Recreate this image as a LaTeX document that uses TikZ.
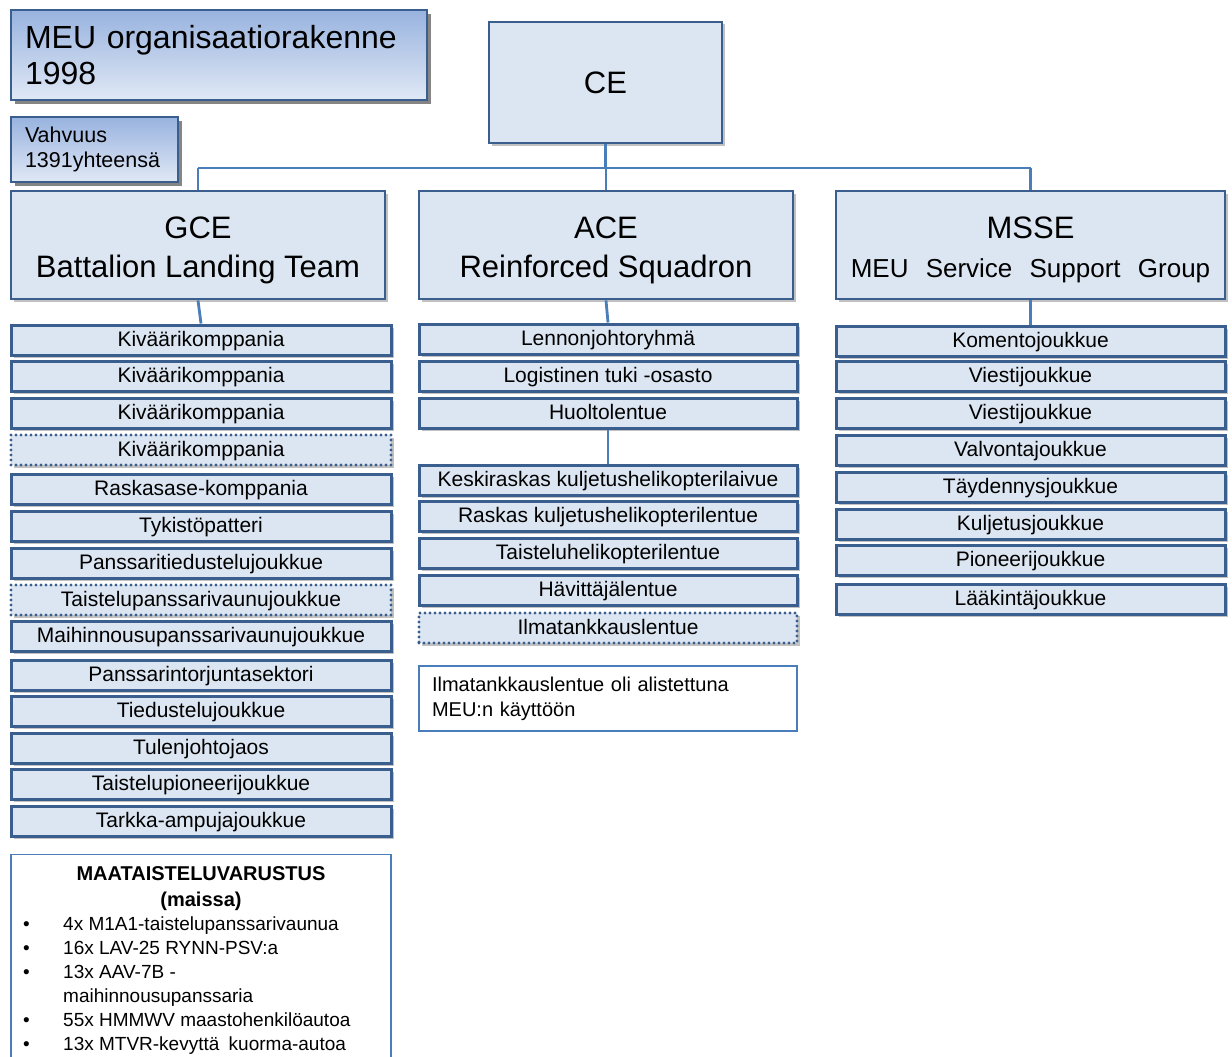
\documentclass[tikz,border=0pt]{standalone}
\usepackage{fontspec}
\setmainfont{Liberation Sans}
\usepackage{tikz}
\usetikzlibrary{shadows,positioning}

\definecolor{boxfill}{HTML}{DCE6F2}
\definecolor{boxline}{HTML}{3A5F8F}
\definecolor{linkblue}{HTML}{4A7EBB}
\definecolor{titletop}{HTML}{98B3DF}
\definecolor{titlebot}{HTML}{E0E8F5}

\newcommand{\headstrut}{\rule{0pt}{32pt}}

\tikzset{
  softshadow/.style={drop shadow={shadow xshift=2.5pt,shadow yshift=-2.5pt,opacity=.35,fill=black!70}},
  unit/.style={draw=boxline,line width=3pt,fill=boxfill,minimum height=30pt,inner sep=0pt,
    text height=15pt,text depth=2pt,font=\fontsize{21}{24}\selectfont,softshadow},
  optional/.style={unit,line width=3.4pt,line cap=round,dash pattern=on 0pt off 5pt,drop shadow={opacity=0}},
  headbox/.style={draw=boxline,line width=2.8pt,fill=boxfill,minimum height=108pt,inner sep=0pt,
    align=center,font=\fontsize{31}{39}\selectfont,softshadow},
  titlebox/.style={draw=boxline,line width=1.8pt,top color=titletop,bottom color=titlebot,
    align=left,inner xsep=14pt,drop shadow={shadow xshift=4pt,shadow yshift=-4pt,opacity=.6,fill=black!80}},
  notebox/.style={draw=linkblue,line width=1.4pt,fill=white,align=left,inner xsep=13pt,
    font=\fontsize{20}{25}\selectfont},
  link/.style={draw=linkblue,line width=2.8pt}
}

\begin{document}
\begin{tikzpicture}[x=1pt,y=-1pt]
\useasboundingbox (0,0) rectangle (1232,1057);

% title and strength
\node[titlebox,minimum width=416pt,minimum height=90pt,text width=388pt,font=\fontsize{32}{36}\selectfont] (title) at (219,55) {MEU organisaatiorakenne\\1998};
\node[titlebox,minimum width=167pt,minimum height=65pt,text width=139pt,font=\fontsize{21.5}{25}\selectfont] (strength) at (94.5,149.5) {Vahvuus\\1391yhteensä};

% command element
\node[headbox,minimum width=233pt,minimum height=121pt,text height=22pt,text depth=0pt] (ce) at (605.5,82.5) {CE};

% elements
\node[headbox,minimum width=374pt] (gce) at (198,245) {\headstrut GCE\\Battalion Landing Team};
\node[headbox,minimum width=374pt] (ace) at (606,245) {\headstrut ACE\\Reinforced Squadron};
\node[headbox,minimum width=389pt] (msse) at (1030.5,245) {\headstrut MSSE\\{\fontsize{26}{37}\selectfont MEU\hspace{10pt} Service\hspace{10pt} Support\hspace{10pt} Group}};

% GCE units
\node[unit,minimum width=380pt] (g1) at (201,340) {Kiväärikomppania};
\node[unit,minimum width=380pt] (g2) at (201,376) {Kiväärikomppania};
\node[unit,minimum width=380pt] (g3) at (201,413) {Kiväärikomppania};
\node[optional,minimum width=380pt] (g4) at (201,450) {Kiväärikomppania};
\node[unit,minimum width=380pt] (g5) at (201,489) {Raskasase-komppania};
\node[unit,minimum width=380pt] (g6) at (201,526) {Tykistöpatteri};
\node[unit,minimum width=380pt] (g7) at (201,563) {Panssaritiedustelujoukkue};
\node[optional,minimum width=380pt] (g8) at (201,600) {Taistelupanssarivaunujoukkue};
\node[unit,minimum width=380pt] (g9) at (201,636) {Maihinnousupanssarivaunujoukkue};
\node[unit,minimum width=380pt] (g10) at (201,675) {Panssarintorjuntasektori};
\node[unit,minimum width=380pt] (g11) at (201,711) {Tiedustelujoukkue};
\node[unit,minimum width=380pt] (g12) at (201,748) {Tulenjohtojaos};
\node[unit,minimum width=380pt] (g13) at (201,784) {Taistelupioneerijoukkue};
\node[unit,minimum width=380pt] (g14) at (201,821) {Tarkka-ampujajoukkue};

% ACE units
\node[unit,minimum width=378pt] (a1) at (608,339) {Lennonjohtoryhmä};
\node[unit,minimum width=378pt] (a2) at (608,376) {Logistinen tuki -osasto};
\node[unit,minimum width=378pt] (a3) at (608,413) {Huoltolentue};
\node[unit,minimum width=378pt] (a4) at (608,480) {Keskiraskas kuljetushelikopterilaivue};
\node[unit,minimum width=378pt] (a5) at (608,516) {Raskas kuljetushelikopterilentue};
\node[unit,minimum width=378pt] (a6) at (608,553) {Taisteluhelikopterilentue};
\node[unit,minimum width=378pt] (a7) at (608,590) {Hävittäjälentue};
\node[optional,minimum width=378pt] (a8) at (608,628) {Ilmatankkauslentue};
\node[notebox,minimum width=378pt,minimum height=65pt,text width=352pt] (note) at (608,698.5) {Ilmatankkauslentue oli alistettuna\\MEU:n käyttöön};

% MSSE units
\node[unit,minimum width=389pt] (m1) at (1030.5,341) {Komentojoukkue};
\node[unit,minimum width=389pt] (m2) at (1030.5,376) {Viestijoukkue};
\node[unit,minimum width=389pt] (m3) at (1030.5,413) {Viestijoukkue};
\node[unit,minimum width=389pt] (m4) at (1030.5,450) {Valvontajoukkue};
\node[unit,minimum width=389pt] (m5) at (1030.5,487) {Täydennysjoukkue};
\node[unit,minimum width=389pt] (m6) at (1030.5,524) {Kuljetusjoukkue};
\node[unit,minimum width=389pt] (m7) at (1030.5,560) {Pioneerijoukkue};
\node[unit,minimum width=389pt] (m8) at (1030.5,599) {Lääkintäjoukkue};

% ground combat equipment
\node[draw=linkblue,line width=1.4pt,fill=white,minimum width=380pt,minimum height=230pt,anchor=north] (equip) at (201,854) {};
\node[align=center,font=\fontsize{20}{26}\selectfont\bfseries,anchor=north] (equiphead) at (201,863) {MAATAISTELUVARUSTUS\\(maissa)};
\node[anchor=north west,inner sep=0pt,font=\fontsize{19}{24}\selectfont] (equiplist) at (23,913) {%
\begin{tabular}{@{}p{40pt}@{}l@{}}
\textbullet & 4x M1A1-taistelupanssarivaunua\\
\textbullet & 16x LAV-25 RYNN-PSV:a\\
\textbullet & 13x AAV-7B -\\
 & maihinnousupanssaria\\
\textbullet & 55x HMMWV maastohenkilöautoa\\
\textbullet & 13x MTVR-kevyttä\hspace{4pt} kuorma-autoa
\end{tabular}};

% connectors
\coordinate (busl) at (198,168);
\coordinate (busr) at (1030.5,168);
\draw[link] (busl) -- (busr);
\draw[link] (ce.south) -- (ce.south |- busl);
\draw[link] (busl) -- (gce.north);
\draw[link] (ace.north |- busl) -- (ace.north);
\draw[link] (busr) -- (msse.north);
\draw[link] (gce.south) -- (g1.north);
\draw[link] (ace.south) -- (a1.north);
\draw[link] (msse.south) -- (m1.north);
\draw[link] (a3.south) -- (a4.north);

\end{tikzpicture}
\end{document}
